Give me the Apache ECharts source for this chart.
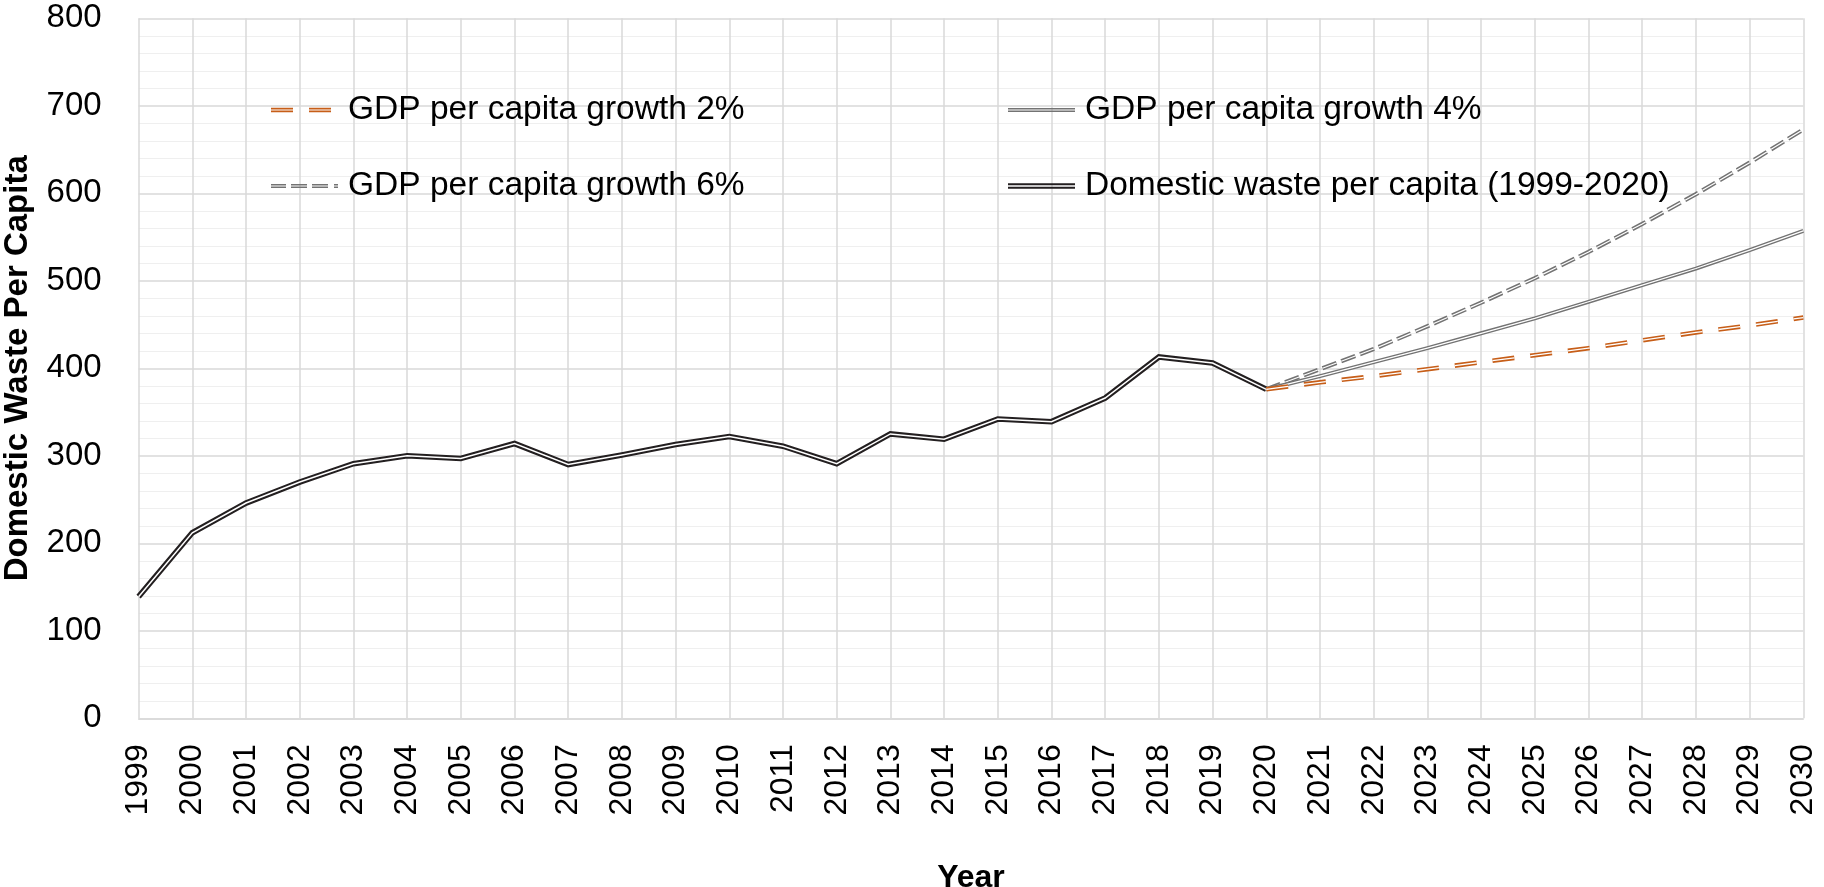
<!DOCTYPE html>
<html>
<head>
<meta charset="utf-8">
<title>Domestic Waste Per Capita</title>
<script src="https://cdn.jsdelivr.net/npm/echarts@6/dist/echarts.min.js"></script>
<style>
  html, body { margin: 0; padding: 0; background: #ffffff; }
  #chart { width: 1824px; height: 887px; }
</style>
</head>
<body>
<div id="chart"></div>
<script>
// Year categories on the x axis
const years = ['1999','2000','2001','2002','2003','2004','2005','2006','2007','2008',
  '2009','2010','2011','2012','2013','2014','2015','2016','2017','2018','2019','2020',
  '2021','2022','2023','2024','2025','2026','2027','2028','2029','2030'];

// Observed domestic waste per capita, 1999-2020
const observed = [139, 212, 246, 270, 291, 300, 297, 314, 290, 301, 313, 322,
  311, 291, 325, 319, 342, 339, 366, 413, 406, 376];

// Projections 2020-2030 under three GDP per capita growth scenarios
const growth2 = [376, 384, 391, 399, 407, 415, 423, 432, 441, 449, 458];
const growth4 = [376, 391, 407, 423, 440, 457, 476, 495, 514, 535, 557];
const growth6 = [376, 399, 422, 448, 475, 503, 533, 565, 599, 635, 673];

const yTicks = [0, 100, 200, 300, 400, 500, 600, 700, 800];

const NAME_2 = 'GDP per capita growth 2%';
const NAME_4 = 'GDP per capita growth 4%';
const NAME_6 = 'GDP per capita growth 6%';
const NAME_OBS = 'Domestic waste per capita (1999-2020)';

const FONT = '"Liberation Sans", Arial, sans-serif';
const DARK = '#231f20';
const GREY = '#737373';
const ORANGE = '#c75e18';

// Align a series to the full year axis
function onYears(values, startYear) {
  const out = years.map(() => null);
  const start = years.indexOf(startYear);
  values.forEach((v, i) => { out[start + i] = v; });
  return out;
}

// A "compound" line: a wide coloured stroke with a thin white stroke on top
function doubleLine(name, data, color, outer, inner, dash) {
  const type = dash || 'solid';
  return [
    {
      name: name, type: 'line', data: data, color: color,
      symbol: 'none', connectNulls: false, z: 2,
      lineStyle: { color: color, width: outer, type: type, cap: 'butt', join: 'miter' }
    },
    {
      name: name + ' (inner)', type: 'line', data: data,
      symbol: 'none', connectNulls: false, z: 2, silent: true,
      lineStyle: { color: '#ffffff', width: inner, type: type, cap: 'butt', join: 'miter' }
    }
  ];
}

const series = [].concat(
  doubleLine(NAME_OBS, onYears(observed, '1999'), DARK, 5.6, 1.5),
  doubleLine(NAME_6, onYears(growth6, '2020'), GREY, 4.2, 1.2, [15, 5]),
  doubleLine(NAME_4, onYears(growth4, '2020'), GREY, 4.0, 1.2),
  doubleLine(NAME_2, onYears(growth2, '2020'), ORANGE, 4.6, 1.3, [22, 16])
);

// Legend icons drawn as double strokes
const ICON_2 = 'path://M0,0H22V1.7H0Z M0,2.9H22V4.6H0Z M38,0H60V1.7H38Z M38,2.9H60V4.6H38Z';
const ICON_6 = 'path://M0,0H15V1.5H0Z M0,2.7H15V4.2H0Z M20,0H36V1.5H20Z M20,2.7H36V4.2H20Z ' +
  'M41,0H57V1.5H41Z M41,2.7H57V4.2H41Z M63,0H67V1.5H63Z M63,2.7H67V4.2H63Z';
const ICON_4 = 'path://M0,0H67V1.4H0Z M0,2.6H67V4H0Z';
const ICON_OBS = 'path://M0,0H67V2H0Z M0,3.6H67V5.6H0Z';

function legendAt(name, icon, color, left, top, w, h, gap) {
  return {
    left: left, top: top, orient: 'horizontal',
    itemWidth: w, itemHeight: h, symbolKeepAspect: false,
    selectedMode: false, padding: 0,
    data: [{ name: name, icon: icon, itemStyle: { color: color, borderWidth: 0 } }],
    textStyle: { fontFamily: FONT, fontSize: 33.5, color: '#000', lineHeight: 36,
      padding: [0, 0, 0, gap] }
  };
}

const chart = echarts.init(document.getElementById('chart'), null, { renderer: 'canvas' });
chart.setOption({
  animation: false,
  backgroundColor: '#ffffff',
  textStyle: { fontFamily: FONT },
  grid: {
    left: 138.6, right: 20.7, top: 18.3, bottom: 168.7,
    containLabel: false, outerBoundsMode: 'none'
  },
  legend: [
    legendAt(NAME_2, ICON_2, ORANGE, 271, 92, 60, 4.6, 12),
    legendAt(NAME_4, ICON_4, GREY, 1008, 92, 67, 4.0, 5),
    legendAt(NAME_6, ICON_6, GREY, 271, 168, 67, 4.2, 5),
    legendAt(NAME_OBS, ICON_OBS, DARK, 1008, 168, 67, 5.6, 5)
  ],
  xAxis: {
    type: 'category',
    data: years,
    boundaryGap: false,
    name: 'Year',
    nameLocation: 'middle',
    nameGap: 144,
    nameTextStyle: { fontFamily: FONT, fontSize: 32, fontWeight: 'bold', color: '#000' },
    axisLine: { show: true, lineStyle: { color: '#d9d9d9', width: 1.5 } },
    axisTick: { show: false },
    axisLabel: { interval: 0, rotate: 90, margin: 26, fontSize: 32, color: '#000', fontFamily: FONT },
    splitLine: { show: true, interval: 0, lineStyle: { color: '#d9d9d9', width: 1.5 } }
  },
  yAxis: {
    type: 'value',
    min: yTicks[0],
    max: yTicks[yTicks.length - 1],
    interval: 100,
    name: 'Domestic Waste Per Capita',
    nameLocation: 'middle',
    nameRotate: 90,
    nameGap: 104,
    nameTextStyle: { fontFamily: FONT, fontSize: 33, fontWeight: 'bold', color: '#000' },
    axisLine: { show: false },
    axisTick: { show: false },
    axisLabel: { margin: 37, fontSize: 33, color: '#000', fontFamily: FONT },
    splitLine: { show: true, lineStyle: { color: '#d9d9d9', width: 1.5 } },
    minorTick: { show: false, splitNumber: 5 },
    minorSplitLine: { show: true, lineStyle: { color: '#efefef', width: 1.2 } }
  },
  series: series
});
</script>
</body>
</html>
